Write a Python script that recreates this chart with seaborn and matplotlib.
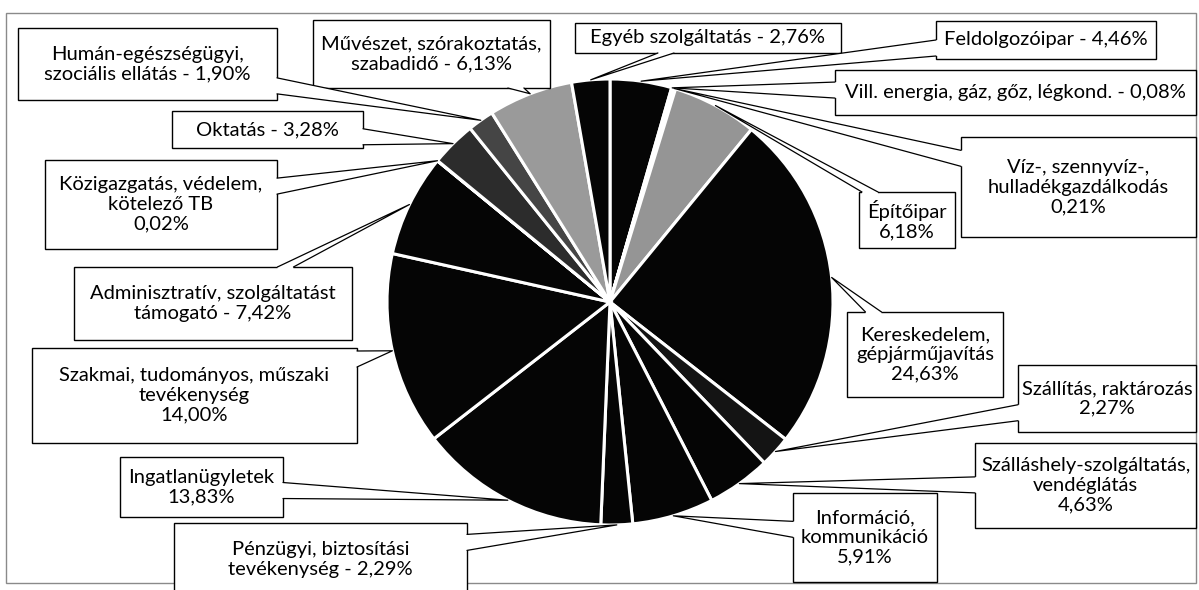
import numpy as np
import matplotlib
matplotlib.use("Agg")
import matplotlib.pyplot as plt
from matplotlib.patches import Rectangle, Polygon
import seaborn as sns

sns.set_theme(style="white")
plt.rcParams["font.family"] = ["Lato", "DejaVu Sans"]

# %%
# ágazatok, óramutató járásával megegyezően, 12 órától
sectors = [
    "Feldolgozóipar", "Vill. energia, gáz, gőz, légkond.", "Víz-, szennyvíz-, hulladékgazdálkodás",
    "Építőipar", "Kereskedelem, gépjárműjavítás", "Szállítás, raktározás",
    "Szálláshely-szolgáltatás, vendéglátás", "Információ, kommunikáció",
    "Pénzügyi, biztosítási tevékenység", "Ingatlanügyletek",
    "Szakmai, tudományos, műszaki tevékenység", "Adminisztratív, szolgáltatást támogató",
    "Közigazgatás, védelem, kötelező TB", "Oktatás", "Humán-egészségügyi, szociális ellátás",
    "Művészet, szórakoztatás, szabadidő", "Egyéb szolgáltatás",
]
shares = [4.46, 0.08, 0.21, 6.18, 24.63, 2.27, 4.63, 5.91, 2.29,
          13.83, 14.00, 7.42, 0.02, 3.28, 1.90, 6.13, 2.76]
label_fmt = [
    "Feldolgozóipar - {}", "Vill. energia, gáz, gőz, légkond. - {}",
    "Víz-, szennyvíz-,\nhulladékgazdálkodás\n{}", "Építőipar\n{}",
    "Kereskedelem,\ngépjárműjavítás\n{}", "Szállítás, raktározás\n{}",
    "Szálláshely-szolgáltatás,\nvendéglátás\n{}", "Információ,\nkommunikáció\n{}",
    "Pénzügyi, biztosítási\ntevékenység - {}", "Ingatlanügyletek\n{}",
    "Szakmai, tudományos, műszaki\ntevékenység\n{}", "Adminisztratív, szolgáltatást\ntámogató - {}",
    "Közigazgatás, védelem,\nkötelező TB\n{}", "Oktatás - {}",
    "Humán-egészségügyi,\nszociális ellátás - {}", "Művészet, szórakoztatás,\nszabadidő - {}",
    "Egyéb szolgáltatás - {}",
]
colors = ["#050505", "#050505", "#050505", "#959595", "#050505", "#141414",
          "#050505", "#050505", "#050505", "#050505", "#050505", "#050505",
          "#050505", "#2c2c2c", "#454545", "#9a9a9a", "#050505"]

# címkedobozok helye pixelben (x0, y0, x1, y1)
boxes = [
    (936, 21, 1156, 59), (835, 70, 1196, 115), (961, 137, 1196, 237),
    (859, 192, 955, 248), (847, 312, 1003, 397), (1018, 365, 1196, 432),
    (975, 443, 1196, 528), (793, 493, 937, 582), (174, 523, 467, 596),
    (120, 457, 283, 517), (32, 348, 357, 443), (74, 267, 352, 340),
    (45, 160, 277, 249), (172, 111, 363, 148), (18, 28, 277, 100),
    (313, 20, 550, 88), (575, 23, 841, 53),
]


def pct(v):
    return f"{v:.2f}".replace(".", ",") + "%"


def callout(ax, box, tip, text):
    x0, y0, x1, y1 = box
    cx, cy = (x0 + x1) / 2, (y0 + y1) / 2
    hw, hh = (x1 - x0) / 2, (y1 - y0) / 2
    dx, dy = tip[0] - cx, tip[1] - cy
    tx = hw / abs(dx) if dx else np.inf
    ty = hh / abs(dy) if dy else np.inf
    bw = 8
    if tx < ty:
        ex = x1 if dx > 0 else x0
        ey = np.clip(cy + dy * tx, y0 + bw + 3, y1 - bw - 3)
        b1, b2 = (ex, ey - bw), (ex, ey + bw)
        s = -2 if dx > 0 else 2
        i1, i2 = (ex + s, ey - bw), (ex + s, ey + bw)
    else:
        ey = y1 if dy > 0 else y0
        ex = np.clip(cx + dx * ty, x0 + bw + 3, x1 - bw - 3)
        b1, b2 = (ex - bw, ey), (ex + bw, ey)
        s = -2 if dy > 0 else 2
        i1, i2 = (ex - bw, ey + s), (ex + bw, ey + s)
    ax.add_patch(Rectangle((x0, y0), x1 - x0, y1 - y0, fc="white", ec="black", lw=1.0, zorder=4))
    ax.add_patch(Polygon([i1, b1, tip, b2, i2], closed=True, fc="white", ec="none", zorder=5))
    ax.plot([b1[0], tip[0], b2[0]], [b1[1], tip[1], b2[1]], color="black", lw=0.9, zorder=5)
    ax.text(cx, cy, text, ha="center", va="center", multialignment="center",
            fontsize=14.5, linespacing=1.18, color="black", zorder=6)


# %%
fig = plt.figure(figsize=(11.99, 5.90), dpi=100)
ax = fig.add_axes([0, 0, 1, 1])

center = (610, 302)
radius = 223
wedges, _ = ax.pie(shares, colors=colors, startangle=-90, counterclock=True,
                   center=center, radius=radius,
                   wedgeprops=dict(edgecolor="white", linewidth=2.2))

ax.set_xlim(0, 1199)
ax.set_ylim(590, 0)
ax.set_aspect("equal")
ax.axis("off")

for w, box, fmt, v in zip(wedges, boxes, label_fmt, shares):
    mid = np.deg2rad((w.theta1 + w.theta2) / 2)
    tip = (center[0] + radius * np.cos(mid), center[1] + radius * np.sin(mid))
    callout(ax, box, tip, fmt.format(pct(v)))

# diagram kerete
ax.add_patch(Rectangle((6, 13), 1190, 570, fill=False, ec="#8a8a8a", lw=1.0, zorder=0))

fig.savefig("out.png", dpi=100)
